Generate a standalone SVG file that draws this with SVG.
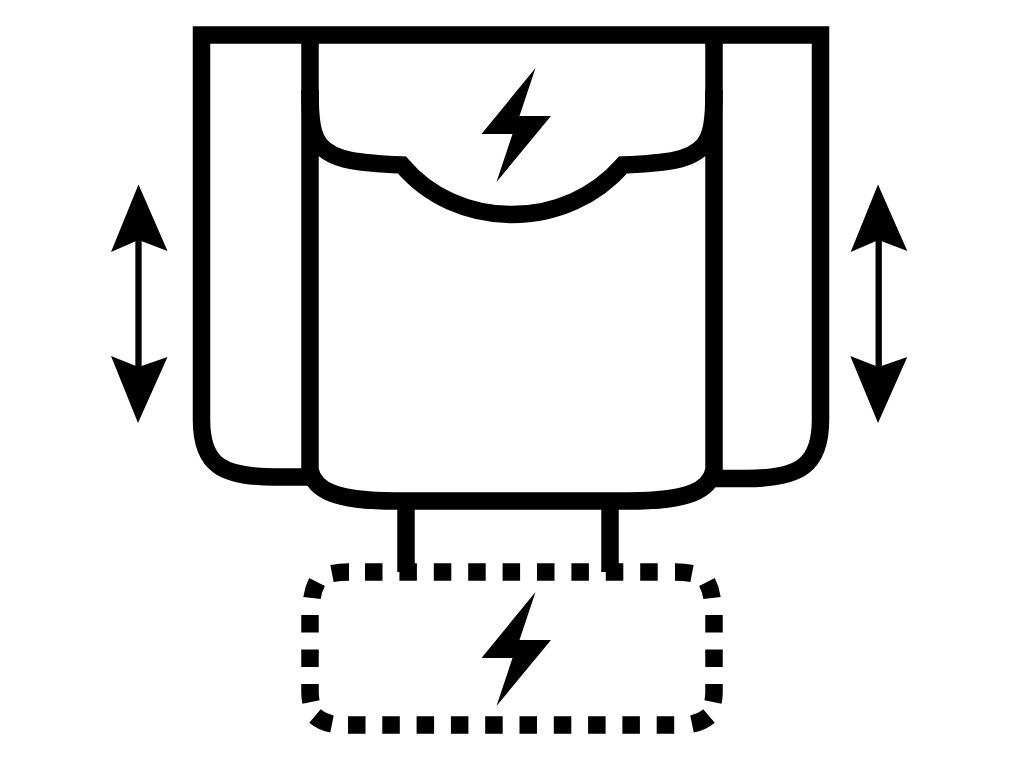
<svg xmlns="http://www.w3.org/2000/svg" width="1024" height="768" viewBox="0 0 1024 768">
<style>
.o{fill:none;stroke:#000;stroke-width:17.500;stroke-linejoin:miter}
.a{fill:#000;stroke:none}
.s{fill:none;stroke:#000;stroke-width:6.300}
</style>
<defs>
<path id="bolt" class="a" d="M535.500 68L481.500 134H512.500L496.500 182L551 116H519.500Z"/>
</defs>
<rect width="1024" height="768" fill="#fff"/>
<g id="chair">
<path class="o" d="M310 477H275C222 477 201.500 465 201.500 420V35H820.500V420C820.500 465 800 478.500 747 478.500H714"/>
<path class="o" d="M310 35V470C314 490 335 501 395 501H629C689 501 710 490 714 470V35"/>
<path class="o" d="M310 90C310 120 312 135 320 145C333 161 360 163 402 165C428 196 468 214.500 512 214.500C556 214.500 596 196 623 165C665 163 691 161 704 145C712 135 714 120 714 90"/>
<path class="o" d="M406 501V572M610 501V572"/>
</g>
<g id="bolt-top"><use href="#bolt"/></g>
<g id="tray">
<path class="o" d="M365 572H659" stroke-dasharray="17.500 16.900"/>
<path class="o" d="M348 725H675" stroke-dasharray="17.500 16.800"/>
<path class="o" d="M310 615V667M714 615V667" stroke-dasharray="17.500 16.900"/>
<path class="o" d="M349 572Q340 572 332 573.500M675 572Q684 572 692 573.500M312 598Q313 590 317 582M712 598Q711 590 707 582M310 684V693Q310 697 311 702M714 684V693Q714 697 713 702M315 716Q322 722 332 724M709 716Q702 722 692 724"/>
</g>
<g id="bolt-bottom"><use href="#bolt" transform="translate(0 524)"/></g>
<g id="arrow-left">
<path class="s" d="M138.500 235V372"/>
<path class="a" d="M138.500 184.500L167.500 251L138.500 240L111 252Z"/>
<path class="a" d="M138 423L111 356L138.500 367L167.500 357Z"/>
</g>
<g id="arrow-right">
<path class="s" d="M878.700 235V372"/>
<path class="a" d="M878 184.500L907.300 251L878.500 240L850.700 252Z"/>
<path class="a" d="M878 423L850.300 356L878.500 367L907.300 357Z"/>
</g>
</svg>
